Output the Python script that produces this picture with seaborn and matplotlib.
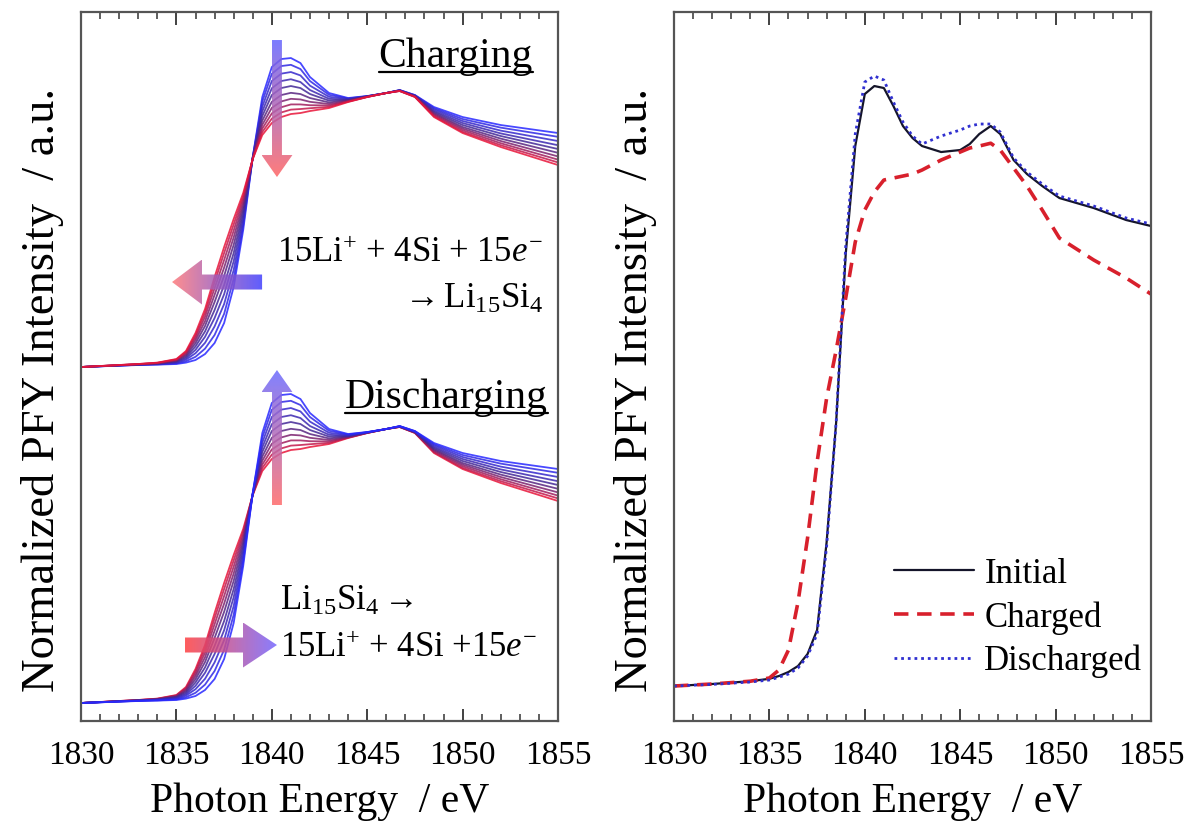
import numpy as np
import pandas as pd
import matplotlib
matplotlib.use("Agg")
import matplotlib.pyplot as plt
import seaborn as sns
from matplotlib.patches import Polygon
from matplotlib.lines import Line2D
from matplotlib.colors import LinearSegmentedColormap
from matplotlib.ticker import MultipleLocator

# ---- left panel: operando spectra, Si (blue) -> Li15Si4 (red) ----
energy = [1830, 1833, 1834, 1835, 1835.5, 1836, 1836.5, 1837, 1837.5, 1838, 1838.5,
          1839, 1839.5, 1840, 1840.5, 1841, 1841.5, 1842, 1843, 1844, 1845, 1846,
          1846.7, 1847.5, 1848.5, 1850, 1852, 1855]

spectra = [
    [0, 0.010, 0.012, 0.015, 0.022, 0.035, 0.065, 0.120, 0.220, 0.400, 0.685, 1.050, 1.350, 1.500,
     1.540, 1.545, 1.520, 1.450, 1.370, 1.345, 1.355, 1.370, 1.385, 1.360, 1.300, 1.250, 1.210, 1.170],
    [0, 0.011, 0.013, 0.018, 0.029, 0.051, 0.092, 0.160, 0.266, 0.441, 0.707, 1.049, 1.327, 1.466,
     1.505, 1.511, 1.490, 1.430, 1.361, 1.343, 1.354, 1.370, 1.384, 1.359, 1.294, 1.240, 1.197, 1.151],
    [0, 0.011, 0.015, 0.021, 0.037, 0.069, 0.121, 0.203, 0.315, 0.485, 0.731, 1.048, 1.302, 1.430,
     1.467, 1.475, 1.458, 1.407, 1.351, 1.340, 1.354, 1.370, 1.384, 1.358, 1.288, 1.230, 1.182, 1.130],
    [0, 0.012, 0.016, 0.025, 0.044, 0.086, 0.151, 0.245, 0.364, 0.529, 0.755, 1.046, 1.278, 1.394,
     1.430, 1.439, 1.425, 1.385, 1.341, 1.337, 1.353, 1.370, 1.383, 1.356, 1.281, 1.220, 1.168, 1.109],
    [0, 0.013, 0.017, 0.028, 0.051, 0.103, 0.178, 0.285, 0.410, 0.570, 0.778, 1.045, 1.255, 1.360,
     1.395, 1.405, 1.395, 1.365, 1.332, 1.335, 1.353, 1.370, 1.383, 1.355, 1.275, 1.210, 1.155, 1.090],
    [0, 0.013, 0.018, 0.031, 0.058, 0.119, 0.205, 0.325, 0.456, 0.611, 0.800, 1.044, 1.232, 1.326,
     1.360, 1.371, 1.365, 1.345, 1.323, 1.333, 1.352, 1.370, 1.382, 1.354, 1.269, 1.200, 1.142, 1.071],
    [0, 0.014, 0.019, 0.033, 0.064, 0.134, 0.229, 0.361, 0.497, 0.648, 0.820, 1.043, 1.211, 1.296,
     1.328, 1.341, 1.338, 1.326, 1.315, 1.330, 1.351, 1.370, 1.381, 1.353, 1.264, 1.192, 1.130, 1.053],
    [0, 0.014, 0.020, 0.036, 0.070, 0.147, 0.252, 0.394, 0.535, 0.682, 0.839, 1.042, 1.192, 1.268,
     1.299, 1.313, 1.313, 1.309, 1.308, 1.328, 1.351, 1.370, 1.381, 1.352, 1.259, 1.184, 1.119, 1.037],
    [0, 0.015, 0.021, 0.038, 0.075, 0.159, 0.272, 0.424, 0.570, 0.713, 0.855, 1.041, 1.175, 1.242,
     1.273, 1.287, 1.290, 1.294, 1.301, 1.327, 1.350, 1.370, 1.380, 1.351, 1.254, 1.176, 1.109, 1.023],
    [0, 0.015, 0.022, 0.040, 0.080, 0.170, 0.290, 0.450, 0.600, 0.740, 0.870, 1.040, 1.160, 1.220,
     1.250, 1.265, 1.270, 1.280, 1.295, 1.325, 1.350, 1.370, 1.380, 1.350, 1.250, 1.170, 1.100, 1.010],
]

# ---- right panel: initial / charged / discharged ----
energy_r = [1830, 1832, 1834, 1835, 1835.5, 1836, 1836.5, 1837, 1837.5, 1838, 1838.5,
            1839, 1839.5, 1840, 1840.5, 1841, 1841.5, 1842, 1842.5, 1843, 1844, 1845,
            1845.5, 1846, 1846.6, 1847.1, 1847.8, 1848.5, 1849.3, 1850.2, 1852, 1853.7, 1855]
initial = [0.00, 0.005, 0.012, 0.018, 0.025, 0.035, 0.05, 0.08, 0.14, 0.36, 0.66,
           1.08, 1.35, 1.48, 1.50, 1.495, 1.45, 1.40, 1.37, 1.35, 1.335, 1.34,
           1.355, 1.38, 1.40, 1.38, 1.315, 1.28, 1.25, 1.22, 1.195, 1.165, 1.15]
charged = [0.00, 0.005, 0.012, 0.02, 0.04, 0.09, 0.21, 0.37, 0.56, 0.72, 0.84,
           0.97, 1.11, 1.19, 1.235, 1.265, 1.27, 1.275, 1.28, 1.29, 1.315, 1.335,
           1.345, 1.35, 1.357, 1.34, 1.295, 1.25, 1.19, 1.12, 1.065, 1.02, 0.98]
discharged = [0.00, 0.004, 0.01, 0.015, 0.022, 0.03, 0.045, 0.075, 0.13, 0.35, 0.66,
              1.10, 1.38, 1.51, 1.525, 1.515, 1.46, 1.41, 1.375, 1.355, 1.375, 1.39,
              1.40, 1.405, 1.405, 1.385, 1.32, 1.285, 1.255, 1.225, 1.20, 1.17, 1.155]
legend_labels = ["Initial", "Charged", "Discharged"]

# vertical offsets of the two stacks in the left panel
charge_offset = 1.77
discharge_offset = 0.09

sns.set_style("ticks")
plt.rcParams["font.family"] = ["Liberation Serif", "DejaVu Serif"]
plt.rcParams["mathtext.fontset"] = "custom"
plt.rcParams["mathtext.rm"] = "Liberation Serif"
plt.rcParams["mathtext.it"] = "Liberation Serif:italic"
plt.rcParams["mathtext.bf"] = "Liberation Serif:bold"
plt.rcParams["text.color"] = "black"
plt.rcParams["axes.labelcolor"] = "black"
plt.rcParams["xtick.color"] = "black"
plt.rcParams["xtick.labelcolor"] = "black"

fig = plt.figure(figsize=(11.9, 8.24), dpi=100)
ax1 = fig.add_axes([0.0681, 0.125, 0.4008, 0.8604])
ax2 = fig.add_axes([0.5664, 0.125, 0.4008, 0.8604])

n = len(spectra)
pal = sns.blend_palette(["#2828ff", "#46288a", "#e8153a"], n)
pal_map = {i: pal[i] for i in range(n)}

rows = []
for i, spec in enumerate(spectra):
    for e, v in zip(energy, spec):
        rows.append((e, v, i))
df = pd.DataFrame(rows, columns=["energy", "intensity", "step"])

# charging: blue first -> red on top ; discharging: red first -> blue on top
sns.lineplot(data=df.assign(y=df["intensity"] + charge_offset), x="energy", y="y",
             hue="step", hue_order=list(range(n)), palette=pal_map, legend=False,
             estimator=None, sort=False, lw=1.3, alpha=0.85, ax=ax1)
sns.lineplot(data=df.assign(y=df["intensity"] + discharge_offset), x="energy", y="y",
             hue="step", hue_order=list(range(n))[::-1], palette=pal_map, legend=False,
             estimator=None, sort=False, lw=1.3, alpha=0.85, ax=ax1)


def gradient_arrow(ax, verts, c_start, c_end, vertical, extent):
    poly = Polygon(verts, closed=True, facecolor="none", edgecolor="none",
                   transform=ax.transData)
    ax.add_patch(poly)
    grad = np.linspace(0, 1, 256)
    img = grad.reshape(-1, 1) if vertical else grad.reshape(1, -1)
    cmap = LinearSegmentedColormap.from_list("arr", [c_start, c_end])
    im = ax.imshow(img, cmap=cmap, extent=extent, origin="lower", aspect="auto",
                   alpha=0.85, zorder=6, interpolation="bilinear")
    im.set_clip_path(poly)


# charging: down arrow (blue -> red) and left arrow
xc, sw, hw = 1840.27, 0.26, 0.81
gradient_arrow(ax1, [(xc - sw, 3.405), (xc + sw, 3.405), (xc + sw, 2.83), (xc + hw, 2.83),
                     (xc, 2.72), (xc - hw, 2.83), (xc - sw, 2.83)],
               "#ff6464", "#6464ff", True, (xc - hw, xc + hw, 2.72, 3.405))
yc, sh, hh = 2.195, 0.0375, 0.1125
gradient_arrow(ax1, [(1839.49, yc - sh), (1839.49, yc + sh), (1836.34, yc + sh), (1836.34, yc + hh),
                     (1834.77, yc), (1836.34, yc - hh), (1836.34, yc - sh)],
               "#ff7a7a", "#4040ff", False, (1834.77, 1839.49, yc - hh, yc + hh))
# discharging: up arrow (red -> blue) and right arrow
gradient_arrow(ax1, [(xc - sw, 1.08), (xc + sw, 1.08), (xc + sw, 1.645), (xc + hw, 1.645),
                     (xc, 1.755), (xc - hw, 1.645), (xc - sw, 1.645)],
               "#ff6a6a", "#6a6aff", True, (xc - hw, xc + hw, 1.08, 1.755))
yc = 0.38
gradient_arrow(ax1, [(1835.45, yc - sh), (1835.45, yc + sh), (1838.49, yc + sh), (1838.49, yc + hh),
                     (1840.27, yc), (1838.49, yc - hh), (1838.49, yc - sh)],
               "#ff4040", "#7466ff", False, (1835.45, 1840.27, yc - hh, yc + hh))

# labels in the left panel
t_chg = ax1.text(1853.69, 3.27, "Charging", ha="right", va="baseline", fontsize=30)
t_dis = ax1.text(1854.48, 1.565, "Discharging", ha="right", va="baseline", fontsize=30)
ax1.text(1854.21, 2.295, r"$\mathrm{15Li^{+}\ {+}\ 4Si\ {+}\ 15}\mathit{e}^{-}$",
         ha="right", va="baseline", fontsize=25)
ax1.text(1854.21, 2.065, r"$\rightarrow\mathrm{Li_{15}Si_{4}}$",
         ha="right", va="baseline", fontsize=25)
ax1.text(1840.43, 0.555, r"$\mathrm{Li_{15}Si_{4}}\rightarrow$",
         ha="left", va="baseline", fontsize=25)
ax1.text(1840.43, 0.32, r"$\mathrm{15Li^{+}\ {+}\ 4Si\ {+}15}\mathit{e}^{-}$",
         ha="left", va="baseline", fontsize=25)

# right panel
sns.lineplot(x=energy_r, y=initial, color="#15152a", lw=1.6, label=legend_labels[0], ax=ax2)
sns.lineplot(x=energy_r, y=charged, color="#d8202c", lw=2.6, linestyle=(0, (4, 2.4)),
             label=legend_labels[1], ax=ax2)
sns.lineplot(x=energy_r, y=discharged, color="#3030d0", lw=2.0, linestyle=(0, (1, 1.4)),
             label=legend_labels[2], ax=ax2)
ax2.legend(loc="lower right", bbox_to_anchor=(0.982, 0.06), frameon=False, fontsize=25,
           handlelength=2.3, handletextpad=0.3, labelspacing=0.3, borderpad=0,
           borderaxespad=0)

ax1.set_ylim(0, 3.545)
ax2.set_ylim(-0.0875, 1.685)
for ax in (ax1, ax2):
    ax.set_xlim(1830, 1855)
    ax.set_yticks([])
    ax.xaxis.set_major_locator(MultipleLocator(5))
    ax.xaxis.set_minor_locator(MultipleLocator(1))
    ax.tick_params(axis="x", which="both", direction="in", top=True, bottom=True,
                   labelsize=24, pad=14, color="#333333")
    ax.tick_params(axis="x", which="major", length=9, width=1.3)
    ax.tick_params(axis="x", which="minor", length=5, width=1.1)
    for sp in ax.spines.values():
        sp.set_color("#555555")
        sp.set_linewidth(1.6)
    ax.set_xlabel("Photon Energy  / eV", fontsize=30, labelpad=8)
    ax.set_ylabel("Normalized PFY Intensity  / a.u.", fontsize=33.5)
    ax.yaxis.set_label_coords(-0.035, 0.467)

# underline the two state labels
fig.canvas.draw()
renderer = fig.canvas.get_renderer()
inv = fig.transFigure.inverted()
for t, yb in ((t_chg, 3.27), (t_dis, 1.565)):
    bb = t.get_window_extent(renderer)
    y_disp = ax1.transData.transform((1830, yb))[1] - 5
    (x0, y0), (x1, _) = inv.transform([(bb.x0, y_disp), (bb.x1, y_disp)])
    fig.add_artist(Line2D([x0, x1], [y0, y0], transform=fig.transFigure, color="black", lw=1.6))

fig.savefig("out.png", dpi=100)
